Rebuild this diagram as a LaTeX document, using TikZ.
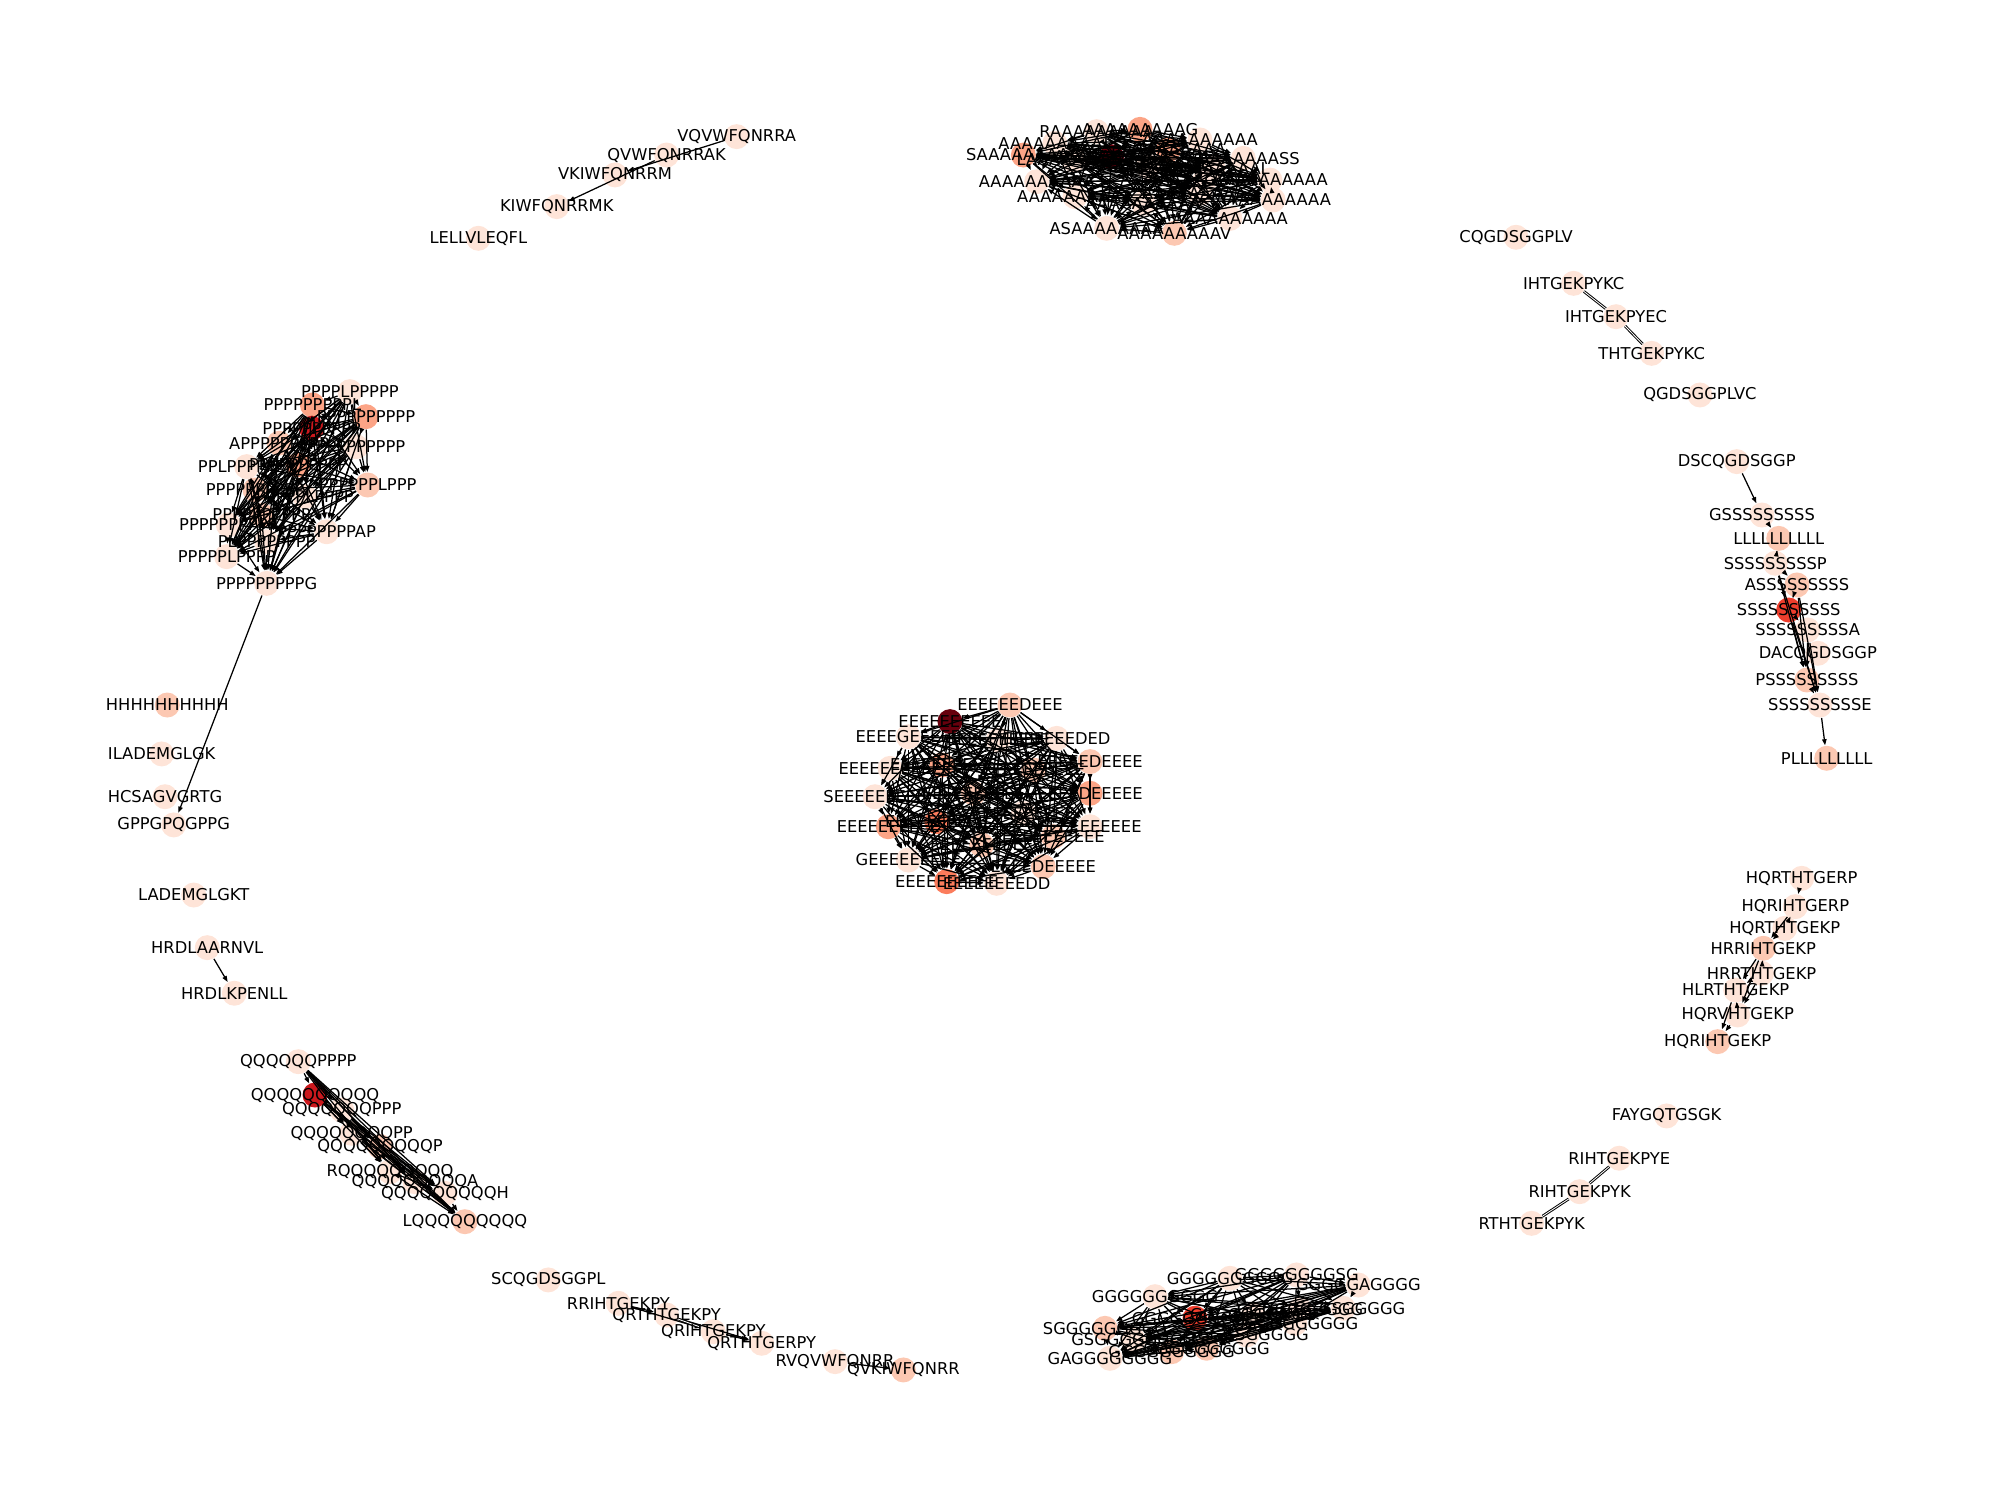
\documentclass[tikz,border=0pt]{standalone}
\usepackage{fontspec}
\setmainfont{DejaVu Sans}
\usetikzlibrary{arrows.meta}
\definecolor{c0}{RGB}{254,228,216}
\definecolor{c1}{RGB}{252,200,178}
\definecolor{c2}{RGB}{252,164,134}
\definecolor{c3}{RGB}{251,124,92}
\definecolor{c4}{RGB}{238,62,45}
\definecolor{c5}{RGB}{203,24,29}
\definecolor{c6}{RGB}{103,0,13}
\def\allnodes{%
a1/858.8/103.1/c0/RAAAAAAAAA,
a2/892.7/101.3/c2/AAAAAAAAAG,
a3/826.0/112.2/c0/AAAAAAAAAT,
a4/801.4/121.4/c2/SAAAAAAAAA,
a5/840.5/125.3/c0/LAAAAAAAAA,
a6/870.5/122.7/c6/AAAAAAAAAA,
a7/914.9/117.5/c2/AAAAAAAAAA,
a8/939.7/109.6/c0/AAAAAAAAAA,
a9/973.6/124.0/c0/AAAAAAAASS,
a10/994.5/141.0/c0/AAAAAAAAAA,
a11/997.0/156.6/c0/AAAAAAAAAA,
a12/963.2/171.0/c0/AAAAAAAAAA,
a13/919.6/182.7/c1/AAAAAAAAAV,
a14/866.6/178.8/c0/ASAAAAAAAA,
a15/811.8/142.3/c0/AAAAAAAAAA,
a16/841.8/154.0/c0/AAAAAAAAAA,
a17/895.3/159.2/c0/AAAAAAAAAA,
a18/939.7/151.4/c0/AAAAAAAAAA,
a19/899.2/130.5/c0/AAAAAAAAAA,
a20/943.6/141.0/c0/AAAAAGAAAA,
a21/950.1/131.8/c0/AAAAAAAAAL,
p1/274.0/306.7/c0/PPPPLPPPPP,
p2/244.6/317.1/c2/PPPPPPPPPL,
p3/286.6/326.3/c2/PPPPPPPPPP,
p4/244.0/335.4/c5/PPPPPPPPPP,
p5/218.5/347.1/c1/APPPPPPPPP,
p6/278.8/349.8/c0/PPPPPPPPPP,
p7/233.6/364.1/c2/PPPPPPPPPP,
p8/193.2/365.4/c0/PPLPPPPPPP,
p9/287.9/379.8/c1/PPPPPPLPPP,
p10/199.7/383.7/c1/PPPPPPPPPP,
p11/238.8/388.9/c0/PPPPPLPPPP,
p12/204.9/403.3/c1/PPPPPPPPPP,
p13/178.8/411.1/c0/PPPPPPPPPP,
p14/255.8/416.4/c0/PPPPPPPPAP,
p15/208.8/424.2/c0/PLPPPPPPPP,
p16/177.5/435.9/c0/PPPPPLPPPP,
p17/208.8/456.8/c0/PPPPPPPPPG,
e1/790.9/552.1/c1/EEEEEEDEEE,
e2/743.9/565.1/c6/EEEEEEEEEE,
e3/711.3/576.9/c0/EEEEGEEEEE,
e4/781.8/579.5/c0/EEEEEEEEEE,
e5/827.5/578.2/c0/EEEEEEEDED,
e6/853.6/596.4/c1/EEEEEDEEEE,
e7/737.4/599.1/c2/EEEEEEEEEE,
e8/697.0/601.7/c0/EEEEEEEEEE,
e9/809.2/603.0/c1/EEEEEEEEEE,
e10/762.2/621.2/c1/EEEEEEEEEE,
e11/685.2/623.9/c0/SEEEEEEEEE,
e12/853.6/621.2/c2/EEEEDEEEEE,
e13/801.3/636.9/c0/EEEEEEEEEE,
e14/733.5/643.5/c3/EEEEEEEEEE,
e15/695.6/647.4/c2/EEEEEEEEEE,
e16/853.6/647.4/c0/EEEEEEEEEE,
e17/824.8/655.2/c1/EEEEEEEEEE,
e18/768.7/661.7/c1/EEEEEEEEEE,
e19/711.3/673.5/c0/GEEEEEEEEE,
e20/817.0/678.7/c1/EEEEDEEEEE,
e21/741.3/690.4/c3/EEEEEEEEEE,
e22/780.5/691.7/c0/EEEEEEEEDD,
q1/233.6/831.4/c0/QQQQQQPPPP,
q2/246.7/857.5/c5/QQQQQQQQQQ,
q3/267.6/869.2/c0/QQQQQQQPPP,
q4/275.4/887.5/c0/QQQQQQQQPP,
q5/297.6/897.9/c1/QQQQQQQQQP,
q6/305.4/917.5/c0/RQQQQQQQQQ,
q7/325.0/925.4/c0/QQQQQQQQQA,
q8/348.5/934.5/c0/QQQQQQQQQH,
q9/364.1/956.7/c1/LQQQQQQQQQ,
g1/963.2/1001.0/c0/GGGGGGGGGG,
g2/1015.4/998.4/c0/GGGGGGGGSG,
g3/1063.7/1006.3/c0/GGGGGAGGGG,
g4/904.5/1015.4/c0/GGGGGGGGGG,
g5/935.8/1032.3/c4/GGGGGGGGGG,
g6/981.5/1029.8/c0/GGGGGGGGGG,
g7/1018.0/1025.8/c0/GGGGGGGGGG,
g8/1051.9/1024.5/c0/GGGGSGGGGG,
g9/1014.1/1036.3/c0/GGGGGGGGGG,
g10/865.3/1040.2/c1/SGGGGGGGGG,
g11/976.3/1045.4/c0/GGGGSGGGGG,
g12/887.5/1049.3/c0/GSGGGGGGGG,
g13/944.9/1055.8/c1/GGGGGGGGGG,
g14/917.5/1058.5/c1/GGGGGGGGGG,
g15/869.2/1063.7/c0/GAGGGGGGGG,
s1/1360.0/361.5/c0/DSCQGDSGGP,
s2/1379.8/403.3/c0/GSSSSSSSSS,
s3/1392.9/421.6/c1/LLLLLLLLLL,
s4/1390.2/441.1/c0/SSSSSSSSSP,
s5/1407.2/458.1/c1/ASSSSSSSSS,
s6/1400.7/477.7/c4/SSSSSSSSSS,
s7/1415.6/493.3/c0/SSSSSSSSSA,
s8/1423.6/511.6/c0/DACQGDSGGP,
s9/1415.0/532.5/c1/PSSSSSSSSS,
s10/1425.2/552.1/c0/SSSSSSSSSE,
s11/1430.5/593.8/c1/PLLLLLLLLL,
h1/1410.9/687.8/c0/HQRTHTGERP,
h2/1405.9/710.0/c0/HQRIHTGERP,
h3/1397.6/727.0/c0/HQRTHTGEKP,
h4/1380.8/742.6/c1/HRRIHTGEKP,
h5/1379.5/762.2/c0/HRRTHTGEKP,
h6/1359.2/775.3/c0/HLRTHTGEKP,
h7/1360.8/794.8/c0/HQRVHTGEKP,
h8/1345.1/815.7/c1/HQRIHTGEKP,
r1/1187.2/185.8/c0/CQGDSGGPLV,
r2/1232.3/221.9/c0/IHTGEKPYKC,
r3/1265.5/248.0/c0/IHTGEKPYEC,
r4/1293.4/276.7/c0/THTGEKPYKC,
r5/1331.2/309.3/c0/QGDSGGPLVC,
f1/1305.1/873.9/c0/FAYGQTGSGK,
f2/1268.0/907.0/c0/RIHTGEKPYE,
f3/1237.0/933.2/c0/RIHTGEKPYK,
f4/1199.4/958.0/c0/RTHTGEKPYK,
b1/429.4/1002.3/c0/SCQGDSGGPL,
b2/484.2/1020.6/c0/RRIHTGEKPY,
b3/522.0/1029.8/c0/QRTHTGEKPY,
b4/558.6/1042.8/c0/QRIHTGEKPY,
b5/596.5/1051.9/c0/QRTHTGERPY,
b6/653.9/1066.3/c0/RVQVWFQNRR,
b7/707.4/1072.8/c1/QVKIWFQNRR,
t1/576.9/107.0/c0/VQVWFQNRRA,
t2/522.0/121.4/c0/QVWFQNRRAK,
t3/481.6/137.0/c0/VKIWFQNRRM,
t4/436.0/161.8/c0/KIWFQNRRMK,
t5/374.6/186.6/c0/LELLVLEQFL,
l1/131.0/552.1/c1/HHHHHHHHHH,
l2/126.6/590.4/c0/ILADEMGLGK,
l3/129.2/623.9/c0/HCSAGVGRTG,
l4/136.0/646.0/c0/GPPGPQGPPG,
l5/151.7/700.9/c0/LADEMGLGKT,
l6/162.3/742.1/c0/HRDLAARNVL,
l7/183.5/777.8/c0/HRDLKPENLL}
\begin{document}
\begin{tikzpicture}[x=0.45977pt,y=-0.45977pt,
  vert/.style={circle,draw=none,minimum size=9pt,inner sep=0pt},
  lab/.style={font=\fontsize{5.87pt}{7pt}\selectfont,inner sep=0pt,text=black},
  link/.style={draw=black,line width=0.45pt,-{Triangle[length=2.2pt,width=1.6pt]}},
  bi/.style={draw=black,line width=0.35pt,double,double distance=0.3pt}]
\useasboundingbox (0,0) rectangle (1566.2,1174.6);
% nodes (circles)
\foreach \n/\x/\y/\c/\t in \allnodes {\node[vert,fill=\c] (\n) at (\x,\y) {};}
% dense clusters
\foreach \p/\N in {a/21,p/17,e/22,g/15,q/9} {
  \pgfmathtruncatemacro\M{\N-1}
  \foreach \i in {1,...,\M} {
    \pgfmathtruncatemacro\k{\i+1}
    \foreach \j in {\k,...,\N} {\draw[link] (\p\i) -- (\p\j);}
  }
}
% other directed edges
\foreach \u/\v in {s1/s2,s2/s3,s3/s4,s4/s5,s4/s6,s5/s6,s6/s7,s6/s9,s5/s9,s4/s9,
  s6/s10,s7/s9,s9/s10,s5/s10,s4/s10,s7/s10,s10/s11,
  h1/h2,h2/h3,h2/h4,h3/h4,h4/h5,h4/h6,h5/h6,h4/h7,h6/h7,h5/h7,h7/h8,h6/h8,
  b2/b3,b3/b5,b2/b4,b4/b5,b6/b7,
  t1/t3,t2/t4,p17/l4,l6/l7}
  {\draw[link] (\u) -- (\v);}
% bidirectional pairs
\foreach \u/\v in {r2/r3,r3/r4,f2/f3,f3/f4,b3/b4}
  {\draw[bi] (\u) -- (\v);}
% labels
\foreach \n/\x/\y/\c/\t in \allnodes {\node[lab] (lab-\n) at (\n) {\t};}
\end{tikzpicture}
\end{document}
